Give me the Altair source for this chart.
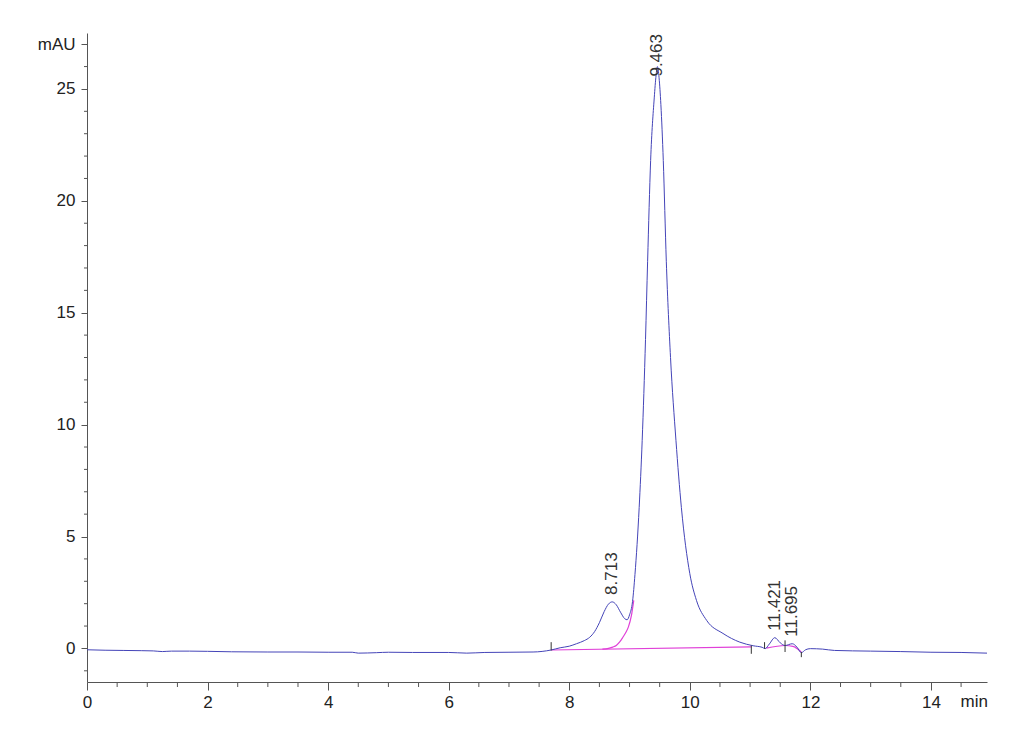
import altair as alt
import pandas as pd

# ---- signal trace (blue) ----
sig_x = [0.0, 0.3, 0.6, 0.9, 1.1, 1.25, 1.4, 1.7, 2.0, 2.4,
         3.0, 3.5, 4.0, 4.4, 4.5, 4.8, 5.0, 5.4, 6.0, 6.3,
         6.6, 7.0, 7.4, 7.7, 7.85, 8.0, 8.12, 8.25, 8.34, 8.42,
         8.50, 8.58, 8.65, 8.713, 8.78, 8.85, 8.92, 8.96, 9.00, 9.05,
         9.09, 9.16, 9.21, 9.265, 9.30, 9.35, 9.41, 9.44, 9.463, 9.49,
         9.52, 9.56, 9.61, 9.68, 9.77, 9.86, 10.0, 10.11, 10.28, 10.55,
         10.83, 11.05, 11.2, 11.25, 11.32, 11.41, 11.5, 11.58, 11.70, 11.78,
         11.85, 11.92, 12.0, 12.2, 12.4, 13.0, 13.5, 14.0, 14.5, 14.93]
sig_y = [-0.06, -0.08, -0.09, -0.10, -0.11, -0.14, -0.12, -0.12, -0.13, -0.15,
         -0.16, -0.16, -0.17, -0.17, -0.21, -0.19, -0.17, -0.18, -0.18, -0.21,
         -0.18, -0.17, -0.16, -0.07, 0.03, 0.10, 0.21, 0.35, 0.50, 0.75,
         1.15, 1.65, 1.98, 2.08, 1.95, 1.62, 1.33, 1.28, 1.50, 2.10,
         3.30, 6.30, 9.30, 13.80, 17.30, 21.80, 24.60, 25.60, 26.00, 25.50,
         24.30, 21.80, 17.30, 13.00, 9.30, 6.30, 3.34, 2.15, 1.25, 0.67,
         0.28, 0.12, 0.05, -0.01, 0.20, 0.48, 0.25, 0.13, 0.21, 0.05,
         -0.19, -0.06, -0.01, -0.03, -0.09, -0.12, -0.14, -0.17, -0.18, -0.21]

# ---- integration baselines / fits (magenta) ----
base_seg = ["A", "A",
            "B", "B", "B", "B", "B", "B", "B", "B", "B", "B",
            "C", "C", "C", "C"]
base_x = [7.70, 11.02,
          8.55, 8.65, 8.72, 8.78, 8.84, 8.89, 8.94, 8.98, 9.03, 9.07,
          11.27, 11.58, 11.71, 11.85]
base_y = [-0.07, 0.07,
          -0.03, 0.0, 0.06, 0.13, 0.30, 0.50, 0.72, 0.95, 1.45, 2.15,
          0.01, 0.13, 0.09, -0.16]

# ---- peak start/end markers ----
mark_x = [7.70, 11.02, 11.24, 11.58, 11.85]
mark_top = [0.28, 0.13, 0.28, 0.36, -0.16]
mark_bot = [-0.09, -0.24, -0.01, -0.16, -0.39]

# ---- peak labels ----
peak_rt = [8.713, 9.463, 11.421, 11.695]
peak_h = [2.08, 26.0, 0.48, 0.21]
peak_main = [False, True, False, False]

# ---- axis ticks ----
x_major = [0, 2, 4, 6, 8, 10, 12, 14]
x_minor = [0.5, 1, 1.5, 2.5, 3, 3.5, 4.5, 5, 5.5, 6.5, 7, 7.5, 8.5, 9, 9.5,
           10.5, 11, 11.5, 12.5, 13, 13.5, 14.5]
y_major = [0, 5, 10, 15, 20, 25, 27]
y_minor = [-1, 1, 2, 3, 4, 6, 7, 8, 9, 11, 12, 13, 14, 16, 17, 18, 19,
           21, 22, 23, 24, 26]

W, H = 900, 649
FONT = "Liberation Sans Narrow, Liberation Sans, Arial"
AXC = "#555"

sig = pd.DataFrame({"x": sig_x, "y": sig_y})
base = pd.DataFrame({"seg": base_seg, "x": base_x, "y": base_y})
marks = pd.DataFrame({"x": mark_x, "top": mark_top, "bot": mark_bot})
peaks = pd.DataFrame({"rt": peak_rt, "h": peak_h, "main": peak_main,
                      "label": [f"{v:.3f}" for v in peak_rt]})

xscale = alt.Scale(domain=[0, 14.93], nice=False, zero=False)
yscale = alt.Scale(domain=[-1.5, 27.5], nice=False, zero=False)

xaxis = alt.Axis(
    title=None, values=x_major, grid=False, format="d", tickSize=8,
    labelFlush=False, labelOverlap=False, labelPadding=4,
    labelFont=FONT, labelFontSize=17, labelColor="#222",
    domainColor=AXC, tickColor=AXC,
)
yaxis = alt.Axis(
    title=None, values=y_major, grid=False, format="d", tickSize=6,
    labelExpr="datum.value == 27 ? 'mAU' : datum.label",
    labelFlush=False, labelOverlap=False, labelPadding=6,
    labelFont=FONT, labelFontSize=17, labelColor="#222",
    domainColor=AXC, tickColor=AXC,
)

signal = alt.Chart(sig).mark_line(color="#4444b8", strokeWidth=1, interpolate="monotone").encode(
    x=alt.X("x:Q", scale=xscale, axis=xaxis),
    y=alt.Y("y:Q", scale=yscale, axis=yaxis),
)

baselines = alt.Chart(base).mark_line(color="#e040d8", strokeWidth=1.2, interpolate="monotone").encode(
    x=alt.X("x:Q", scale=xscale),
    y=alt.Y("y:Q", scale=yscale),
    detail="seg:N",
)

markers = alt.Chart(marks).mark_rule(color="#333", strokeWidth=1).encode(
    x=alt.X("x:Q", scale=xscale),
    y=alt.Y("top:Q", scale=yscale),
    y2="bot:Q",
)

xminor = alt.Chart(pd.DataFrame({"v": x_minor})).mark_rule(color=AXC, strokeWidth=1).encode(
    x=alt.X("v:Q", scale=xscale),
    y=alt.value(H),
    y2=alt.value(H + 5),
)

yminor = alt.Chart(pd.DataFrame({"v": y_minor})).mark_rule(color=AXC, strokeWidth=1).encode(
    y=alt.Y("v:Q", scale=yscale),
    x=alt.value(-3),
    x2=alt.value(0),
)

small_labels = alt.Chart(peaks).transform_filter("!datum.main").mark_text(
    angle=270, align="left", baseline="middle", dx=7,
    font="Liberation Sans", fontSize=17, color="#333",
).encode(
    x=alt.X("rt:Q", scale=xscale),
    y=alt.Y("h:Q", scale=yscale),
    text="label:N",
)

main_label = alt.Chart(peaks).transform_filter("datum.main").mark_text(
    angle=270, align="left", baseline="middle", dx=-10,
    font="Liberation Sans", fontSize=17, color="#333",
).encode(
    x=alt.X("rt:Q", scale=xscale),
    y=alt.Y("h:Q", scale=yscale),
    text="label:N",
)

unit_label = alt.Chart(pd.DataFrame({"t": ["min"]})).mark_text(
    align="right", baseline="top", font=FONT, fontSize=17, color="#222",
).encode(
    x=alt.value(W + 1),
    y=alt.value(H + 12),
    text="t:N",
)

chart = alt.layer(
    baselines, signal, markers, xminor, yminor, small_labels, main_label, unit_label
).properties(
    width=W, height=H,
    autosize=alt.AutoSizeParams(type="none"),
    padding={"left": 79, "top": 25, "right": 35, "bottom": 50},
    background="white",
).configure_view(stroke=None)

chart.save("out.html", embed_options={"renderer": "svg", "actions": False})
